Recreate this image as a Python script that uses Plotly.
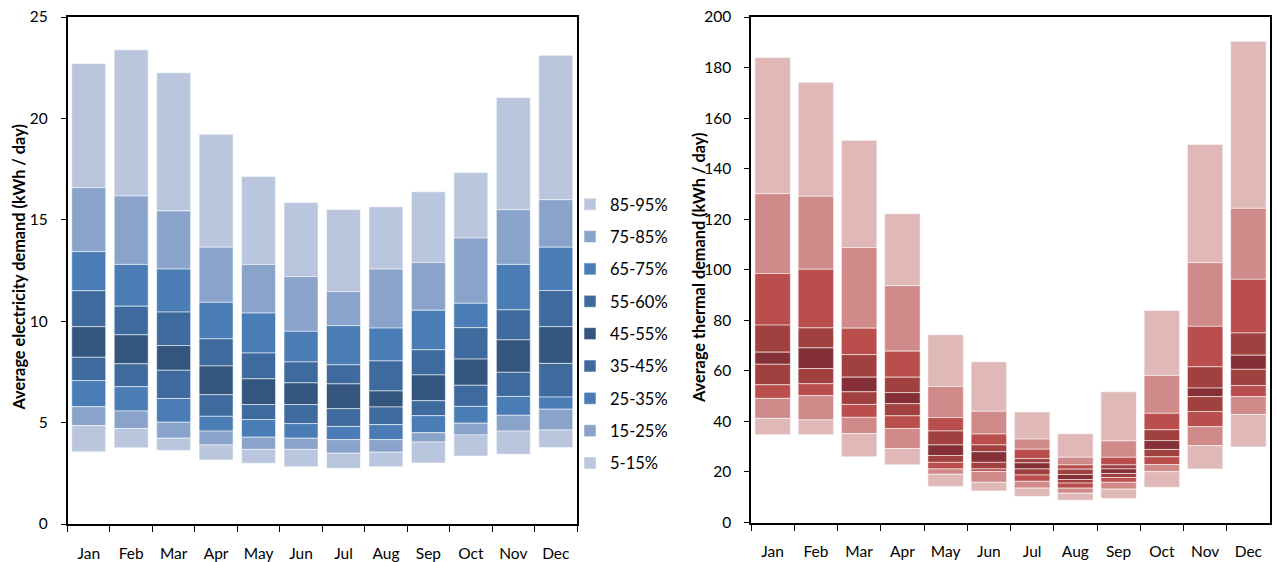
import plotly.graph_objects as go

W, H = 1277, 562

months = ["Jan", "Feb", "Mar", "Apr", "May", "Jun", "Jul", "Aug", "Sep", "Oct", "Nov", "Dec"]
band_labels = ["5-15%", "15-25%", "25-35%", "35-45%", "45-55%", "55-60%", "65-75%", "75-85%", "85-95%"]

# Electricity demand percentiles per month (kWh / day)
elec_p05 = [3.56, 3.76, 3.63, 3.16, 3.00, 2.82, 2.75, 2.82, 3.01, 3.35, 3.44, 3.77]
elec_p15 = [4.85, 4.71, 4.23, 3.90, 3.68, 3.68, 3.49, 3.54, 4.04, 4.39, 4.58, 4.64]
elec_p25 = [5.78, 5.57, 5.02, 4.58, 4.28, 4.23, 4.16, 4.16, 4.50, 4.97, 5.36, 5.66]
elec_p35 = [7.07, 6.77, 6.19, 5.31, 5.15, 4.95, 4.81, 4.90, 5.34, 5.80, 6.29, 6.26]
elec_p45 = [8.22, 7.90, 7.58, 6.38, 5.89, 5.89, 5.69, 5.77, 6.08, 6.84, 7.48, 7.92]
elec_p55 = [9.73, 9.33, 8.80, 7.79, 7.16, 6.96, 6.91, 6.56, 7.35, 8.13, 9.08, 9.73]
elec_p65 = [11.50, 10.74, 10.45, 9.13, 8.43, 7.99, 7.85, 8.04, 8.59, 9.68, 10.56, 11.51]
elec_p75 = [13.43, 12.80, 12.57, 10.93, 10.40, 9.50, 9.78, 9.66, 10.54, 10.88, 12.80, 13.65]
elec_p85 = [16.59, 16.18, 15.44, 13.65, 12.80, 12.20, 11.46, 12.57, 12.89, 14.10, 15.50, 15.99]
elec_p95 = [22.71, 23.38, 22.25, 19.22, 17.14, 15.85, 15.51, 15.64, 16.38, 17.33, 21.03, 23.11]

# Thermal demand percentiles per month (kWh / day)
heat_p05 = [34.7, 34.7, 26.0, 22.8, 14.2, 12.5, 10.3, 8.8, 9.5, 13.9, 21.2, 29.9]
heat_p15 = [41.2, 40.6, 35.2, 29.3, 19.1, 15.9, 13.6, 11.6, 13.2, 20.1, 30.4, 42.7]
heat_p25 = [49.1, 50.2, 41.6, 37.2, 21.2, 20.2, 16.3, 13.6, 15.9, 22.9, 37.9, 49.8]
heat_p35 = [54.5, 54.9, 46.7, 42.2, 23.8, 21.2, 18.8, 15.6, 17.8, 26.0, 43.9, 54.2]
heat_p45 = [62.6, 60.9, 51.7, 47.0, 26.5, 23.8, 21.2, 17.0, 19.4, 28.9, 49.8, 60.6]
heat_p55 = [67.4, 69.1, 57.5, 51.4, 30.7, 28.0, 23.6, 19.0, 21.2, 32.4, 53.2, 66.2]
heat_p65 = [78.1, 77.0, 66.4, 57.5, 36.2, 30.7, 25.3, 21.1, 22.8, 36.7, 61.6, 75.0]
heat_p75 = [98.5, 100.2, 76.9, 67.8, 41.5, 35.0, 29.0, 22.8, 25.8, 43.2, 77.6, 96.2]
heat_p85 = [130.1, 129.1, 108.8, 93.7, 53.8, 44.0, 33.0, 25.8, 32.3, 58.2, 102.8, 124.3]
heat_p95 = [184.0, 174.2, 151.2, 122.2, 74.3, 63.6, 43.7, 35.1, 51.7, 83.9, 149.6, 190.4]

blue_shades = ["#b9c6de", "#8aa3cb", "#4a7cb6", "#3f6a9e", "#33557e",
               "#3f6a9e", "#4a7cb6", "#8aa3cb", "#b9c6de"]
red_shades = ["#e0b8b8", "#cf8a89", "#b94e4c", "#a0403f", "#853036",
              "#a0403f", "#b94e4c", "#cf8a89", "#e0b8b8"]

FONT = "Lato, 'Open Sans', sans-serif"

elec_bounds = [elec_p05, elec_p15, elec_p25, elec_p35, elec_p45,
               elec_p55, elec_p65, elec_p75, elec_p85, elec_p95]
heat_bounds = [heat_p05, heat_p15, heat_p25, heat_p35, heat_p45,
               heat_p55, heat_p65, heat_p75, heat_p85, heat_p95]

fig = go.Figure()


def add_bands(bounds, colors, xa, ya, show_legend, width, prefix):
    # highest band first so the legend lists 85-95% at the top
    for i in reversed(range(len(band_labels))):
        label = band_labels[i]
        lo, hi = bounds[i], bounds[i + 1]
        fig.add_trace(go.Bar(
            x=months,
            y=[h - l for h, l in zip(hi, lo)],
            base=lo,
            name=label,
            legendgroup=prefix + label,
            showlegend=show_legend,
            width=width,
            marker=dict(color=colors[i],
                        line=dict(color="rgba(255,255,255,0.55)", width=1)),
            xaxis=xa, yaxis=ya,
        ))


add_bands(elec_bounds, blue_shades, "x", "y", True, 0.8, "elec ")
add_bands(heat_bounds, red_shades, "x2", "y2", False, 0.82, "heat ")

# plot-area pixel boxes
L1, R1, T1, B1 = 67.5, 577.0, 17.0, 524.0
L2, R2, T2, B2 = 751.0, 1270.0, 17.0, 522.5

tick_font = dict(family=FONT, size=15.5, color="#000000")

xcommon = dict(type="category", showline=True, linecolor="#000000", linewidth=2,
               mirror=True, ticks="outside", ticklen=6, tickwidth=1.3, tickcolor="#000000",
               tickson="boundaries", showgrid=False, tickfont=tick_font,
               ticklabelstandoff=14, fixedrange=True, automargin=False)
ycommon = dict(showline=True, linecolor="#000000", linewidth=1.5, mirror=True,
               ticks="outside", ticklen=5, tickwidth=1.3, tickcolor="#000000",
               showgrid=False, zeroline=False, tickfont=tick_font,
               ticklabelstandoff=10, fixedrange=True, automargin=False)

fig.update_layout(
    width=W, height=H,
    margin=dict(l=0, r=0, t=0, b=0),
    paper_bgcolor="white", plot_bgcolor="white",
    barmode="overlay",
    font=dict(family=FONT, color="#000000"),
    xaxis=dict(xcommon, domain=[L1 / W, R1 / W], anchor="y"),
    yaxis=dict(ycommon, domain=[1 - B1 / H, 1 - T1 / H], range=[0, 25], dtick=5, anchor="x"),
    xaxis2=dict(xcommon, domain=[L2 / W, R2 / W], anchor="y2"),
    yaxis2=dict(ycommon, domain=[1 - B2 / H, 1 - T2 / H], range=[0, 200], dtick=20, anchor="x2"),
    # inner half of the crossing y ticks
    yaxis3=dict(overlaying="y", anchor="x", range=[0, 25], dtick=5, ticks="inside",
                ticklen=5, tickwidth=1.3, tickcolor="#000000", showticklabels=False,
                showgrid=False, zeroline=False, showline=False, fixedrange=True,
                automargin=False),
    yaxis4=dict(overlaying="y2", anchor="x2", range=[0, 200], dtick=20, ticks="inside",
                ticklen=5, tickwidth=1.3, tickcolor="#000000", showticklabels=False,
                showgrid=False, zeroline=False, showline=False, fixedrange=True,
                automargin=False),
    legend=dict(
        x=570 / W, y=1 - 187 / H, xanchor="left", yanchor="top",
        traceorder="grouped", tracegroupgap=7.9,
        font=dict(family=FONT, size=16.5, color="#000000"),
        itemwidth=30, bgcolor="rgba(0,0,0,0)",
    ),
    showlegend=True,
)

title_font = dict(family=FONT, size=16.3, color="#000000")
fig.add_annotation(text="<b>Average electricity demand (kWh / day)</b>",
                   xref="paper", yref="paper", x=17.5 / W, y=1 - 268 / H,
                   xanchor="center", yanchor="middle", textangle=-90,
                   showarrow=False, font=title_font)
fig.add_annotation(text="<b>Average thermal demand (kWh / day)</b>",
                   xref="paper", yref="paper", x=698 / W, y=1 - 268 / H,
                   xanchor="center", yanchor="middle", textangle=-90,
                   showarrow=False, font=title_font)

fig.write_html("out.html")
